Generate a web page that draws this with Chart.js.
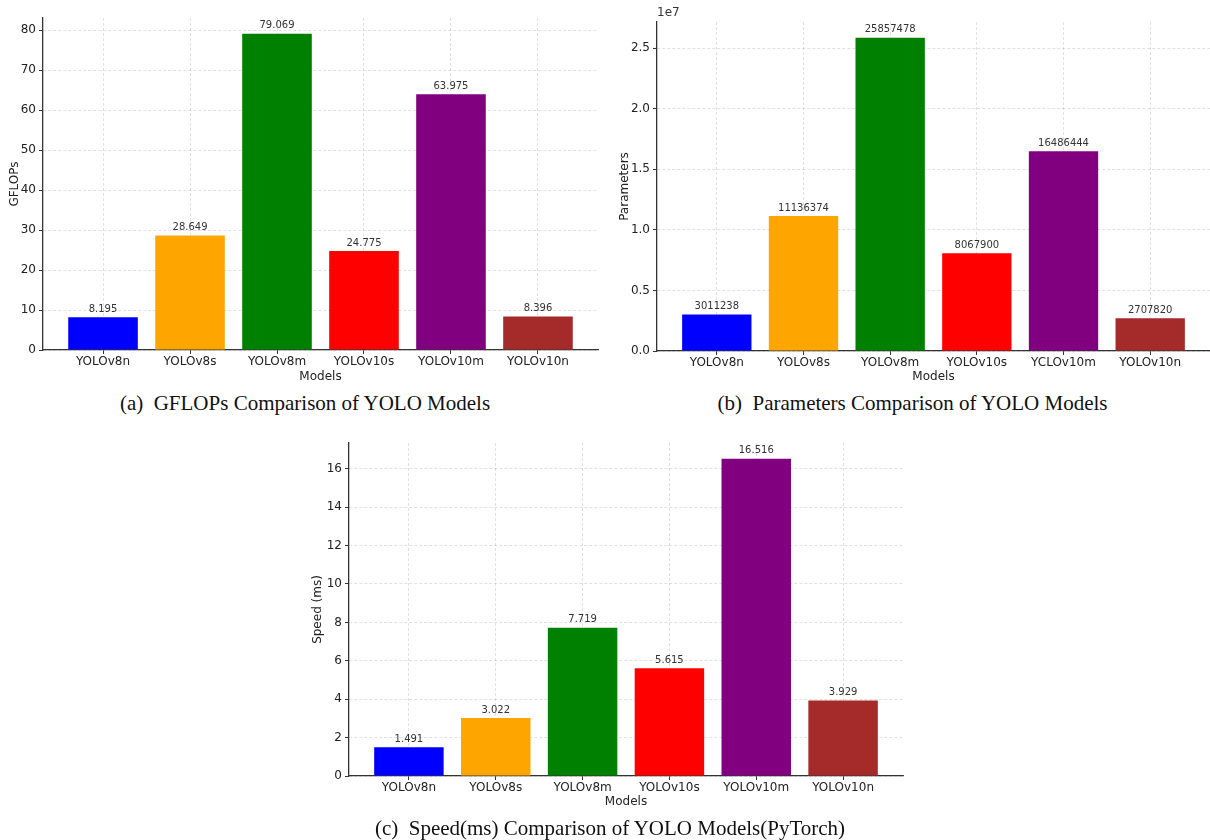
<!DOCTYPE html>
<html>
<head>
<meta charset="utf-8">
<script src="https://cdn.jsdelivr.net/npm/chart.js@4.4.0/dist/chart.umd.min.js"></script>
<style>
  body { margin: 0; background: #fff; width: 1210px; height: 840px; position: relative; overflow: hidden; }
  .box { position: absolute; }
  .cap { position: absolute; font-family: "Liberation Serif", "DejaVu Serif", serif; font-size: 21px; color: #111; text-align: center; white-space: pre; }
</style>
</head>
<body>
<div class="box" style="left:0;top:0;width:605px;height:390px"><canvas id="gflopsChart"></canvas></div>
<div class="box" style="left:605px;top:0;width:605px;height:390px"><canvas id="paramsChart"></canvas></div>
<div class="box" style="left:300px;top:420px;width:620px;height:400px"><canvas id="speedChart"></canvas></div>
<div class="cap" style="left:0;width:610px;top:391px">(a)  GFLOPs Comparison of YOLO Models</div>
<div class="cap" style="left:610px;width:605px;top:391px">(b)  Parameters Comparison of YOLO Models</div>
<div class="cap" style="left:300px;width:620px;top:816px">(c)  Speed(ms) Comparison of YOLO Models(PyTorch)</div>
<script>
// data
const models = ['YOLOv8n', 'YOLOv8s', 'YOLOv8m', 'YOLOv10s', 'YOLOv10m', 'YOLOv10n'];
const modelsParams = ['YOLOv8n', 'YOLOv8s', 'YOLOv8m', 'YOLOv10s', 'YCLOv10m', 'YOLOv10n'];
const gflops = [8.195, 28.649, 79.069, 24.775, 63.975, 8.396];
const params = [3011238, 11136374, 25857478, 8067900, 16486444, 2707820];
const speedMs = [1.491, 3.022, 7.719, 5.615, 16.516, 3.929];
const barColors = ['blue', 'orange', 'green', 'red', 'purple', 'brown'];
const gflopsTicks = [0, 10, 20, 30, 40, 50, 60, 70, 80];
const paramsTicks = [0, 5e6, 1e7, 1.5e7, 2e7, 2.5e7];
const speedTicks = [0, 2, 4, 6, 8, 10, 12, 14, 16];

const tickFont = { family: 'DejaVu Sans', size: 12 };
const gridStyle = { color: 'rgba(0,0,0,0.15)', lineWidth: 0.8, tickColor: '#333', tickLength: 4, tickWidth: 1, offset: false };
const borderStyle = { display: true, color: '#333', width: 1.3, dash: [3, 2] };

// value labels above bars
const valueLabels = {
    id: 'valueLabels',
    afterDatasetsDraw(chart, args, opts) {
        const ctx = chart.ctx;
        const meta = chart.getDatasetMeta(0);
        ctx.save();
        ctx.font = '10px "DejaVu Sans"';
        ctx.fillStyle = '#333';
        ctx.textAlign = 'center';
        ctx.textBaseline = 'bottom';
        meta.data.forEach((bar, i) => {
            ctx.fillText(opts.fmt(chart.data.datasets[0].data[i].y), bar.x, bar.y - 3);
        });
        ctx.restore();
    }
};

// "1e7" offset label
const offsetLabel = {
    id: 'offsetLabel',
    afterDraw(chart, args, opts) {
        if (!opts.text) return;
        const ctx = chart.ctx;
        ctx.save();
        ctx.font = '12px "DejaVu Sans"';
        ctx.fillStyle = '#333';
        ctx.textAlign = 'left';
        ctx.textBaseline = 'bottom';
        ctx.fillText(opts.text, chart.chartArea.left, chart.chartArea.top - 3);
        ctx.restore();
    }
};

function makeBarChart(id, labels, values, yTitle, yMax, yTicks, fmtTick, fmtVal, geom, offsetText) {
    const points = values.map((v, i) => ({ x: i, y: v }));
    new Chart(document.getElementById(id), {
        type: 'bar',
        data: {
            datasets: [{
                data: points,
                backgroundColor: barColors,
                borderWidth: 0,
                barPercentage: 0.8,
                categoryPercentage: 1.0
            }]
        },
        options: {
            responsive: true,
            maintainAspectRatio: false,
            animation: false,
            layout: { padding: { top: geom.top, right: geom.right, left: 0, bottom: 0 } },
            plugins: {
                legend: { display: false },
                tooltip: { enabled: false },
                valueLabels: { fmt: fmtVal },
                offsetLabel: { text: offsetText }
            },
            scales: {
                x: {
                    type: 'linear',
                    offset: false,
                    min: -0.69,
                    max: labels.length - 1 + 0.69,
                    z: 1,
                    afterBuildTicks: axis => { axis.ticks = labels.map((_, i) => ({ value: i })); },
                    afterFit: scale => { scale.height = geom.xh; },
                    ticks: { font: tickFont, color: '#222', padding: 1, maxRotation: 0, callback: v => labels[v] },
                    grid: gridStyle,
                    border: borderStyle,
                    title: { display: true, text: 'Models', font: tickFont, color: '#222', padding: { top: 0, bottom: geom.xtp } }
                },
                y: {
                    min: 0,
                    max: yMax,
                    z: 1,
                    afterBuildTicks: axis => { axis.ticks = yTicks.map(v => ({ value: v })); },
                    afterFit: scale => { scale.width = geom.yw; },
                    ticks: { font: tickFont, color: '#222', padding: 3, callback: fmtTick },
                    grid: gridStyle,
                    border: borderStyle,
                    title: { display: true, text: yTitle, font: tickFont, color: '#222', padding: { top: geom.ytp, bottom: 0 } }
                }
            }
        },
        plugins: [valueLabels, offsetLabel]
    });
}

makeBarChart('gflopsChart', models, gflops, 'GFLOPs', 79.069 * 1.05, gflopsTicks,
    v => v, v => v.toFixed(3), { top: 18, right: 7, yw: 43, xh: 40, xtp: 6, ytp: 8 }, '');
makeBarChart('paramsChart', modelsParams, params, 'Parameters', 25857478 * 1.05, paramsTicks,
    v => (v / 1e7).toFixed(1), v => String(v), { top: 22, right: 0, yw: 52, xh: 39, xtp: 6, ytp: 13 }, '1e7');
makeBarChart('speedChart', models, speedMs, 'Speed (ms)', 16.516 * 1.05, speedTicks,
    v => v, v => v.toFixed(3), { top: 23, right: 17, yw: 49, xh: 44, xtp: 11, ytp: 11 }, '');
</script>
</body>
</html>
